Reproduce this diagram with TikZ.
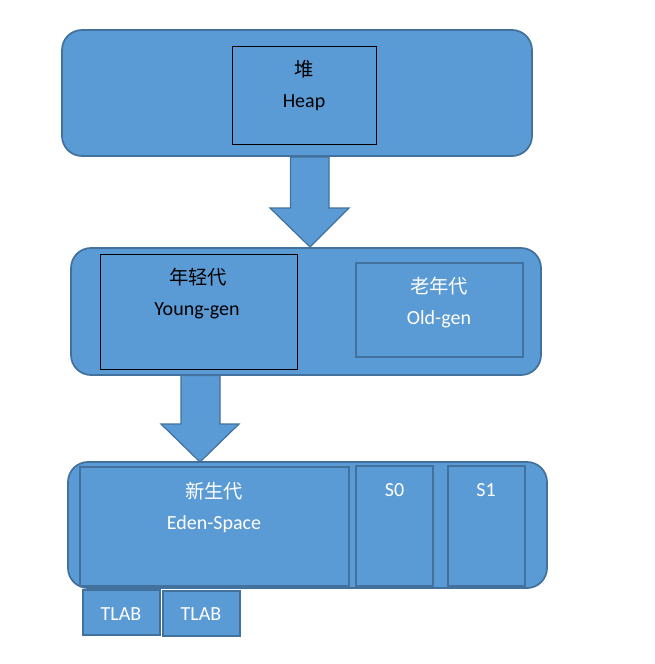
\documentclass[tikz,border=0pt]{standalone}
\usepackage{fontspec}
\setmainfont{Carlito}
\newfontfamily\cjk{Noto Sans CJK SC}
\usetikzlibrary{fit}
\definecolor{boxfill}{HTML}{5B9BD5}
\definecolor{boxline}{HTML}{41719C}
\begin{document}
\begin{tikzpicture}[x=0.75pt,y=-0.75pt,
  outerbox/.style={draw=boxline,fill=boxfill,line width=1.3pt,rounded corners=15pt,inner sep=0pt},
  blackbox/.style={draw=black,fill=boxfill,line width=0.6pt,inner sep=0pt},
  bluebox/.style={draw=boxline,fill=boxfill,line width=1.8pt,inner sep=0pt},
  blockarrow/.style={draw=boxline,fill=boxfill,line width=0.9pt,line join=miter},
  lbl/.style={anchor=base,inner sep=0pt,font=\fontsize{15}{18}\selectfont},
  clbl/.style={anchor=base,inner sep=0pt,font=\cjk\fontsize{14.5}{18}\selectfont},
  wt/.style={text=white},
  bt/.style={text=black}]
\useasboundingbox (0,0) rectangle (654,664);
% level 1
\node[outerbox,fit={(62,30) (532,156)}] (heapouter) {};
\node[blackbox,fit={(232,46) (376,144)}] (heapbox) {};
\node[clbl,bt] (heapcn) at (304,76) {堆};
\node[lbl,bt] (heapen) at (304,107) {Heap};
% level 2
\node[outerbox,fit={(71,248) (541,375)}] (genouter) {};
\node[blackbox,fit={(100,254) (297,369)}] (youngbox) {};
\node[clbl,bt] (youngcn) at (198,284) {年轻代};
\node[lbl,bt] (youngen) at (197,315) {Young-gen};
\node[bluebox,fit={(356,263) (523,357)}] (oldbox) {};
\node[clbl,wt] (oldcn) at (439,293) {老年代};
\node[lbl,wt] (olden) at (439,324) {Old-gen};
% level 3
\node[outerbox,fit={(68,462) (547,588)}] (youngouter) {};
\node[bluebox,fit={(80,467) (349,586)}] (edenbox) {};
\node[clbl,wt] (edencn) at (214,498) {新生代};
\node[lbl,wt] (edenen) at (214,529) {Eden-Space};
\node[bluebox,fit={(356,466) (433,586)}] (szero) {};
\node[lbl,wt] (szerot) at (394.5,496) {S0};
\node[bluebox,fit={(448,466) (525,586)}] (sone) {};
\node[lbl,wt] (sonet) at (486,496) {S1};
% TLABs
\node[bluebox,fit={(83,590) (160,635)}] (tlabone) {};
\node[lbl,wt] (tlabonet) at (121,620) {TLAB};
\node[bluebox,fit={(163,591) (240,636)}] (tlabtwo) {};
\node[lbl,wt] (tlabtwot) at (201,620) {TLAB};
% arrows
\draw[blockarrow] (290.5,157) -- (329,157) -- (329,208) -- (349,208) -- (310,247)
  -- (270,208) -- (290.5,208) -- cycle;
\draw[blockarrow] (181,375.5) -- (220,375.5) -- (220,424) -- (239,424) -- (200,462)
  -- (161,424) -- (181,424) -- cycle;
\end{tikzpicture}
\end{document}
